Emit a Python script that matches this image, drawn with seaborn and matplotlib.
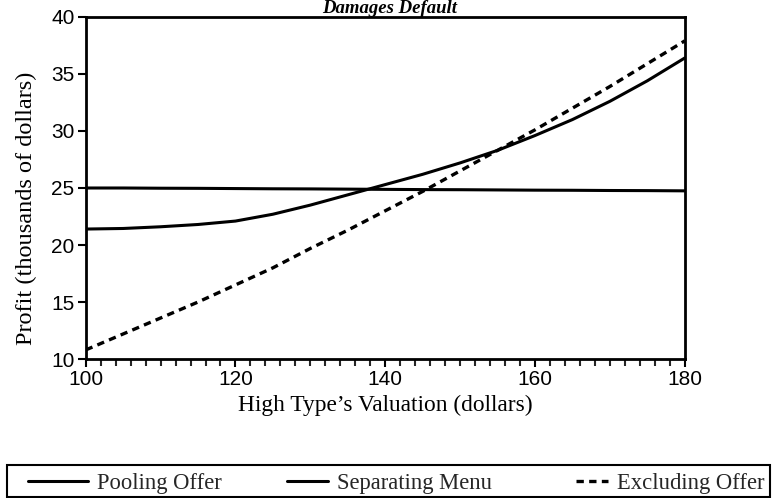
import numpy as np
import pandas as pd
import matplotlib
matplotlib.use("Agg")
import matplotlib.pyplot as plt
import seaborn as sns
from matplotlib.patches import Rectangle

valuation = [100, 105, 110, 115, 120, 125, 130, 135, 140, 145, 150, 155, 160, 165, 170, 175, 180]
pooling = [25.0, 25.0, 24.98, 24.97, 24.95, 24.93, 24.92, 24.9, 24.88, 24.86, 24.85, 24.83, 24.81, 24.8, 24.78, 24.77, 24.75]
separating = [21.4, 21.45, 21.6, 21.8, 22.1, 22.7, 23.5, 24.4, 25.3, 26.2, 27.2, 28.3, 29.6, 31.0, 32.6, 34.4, 36.4]
excluding = [10.8, 12.2, 13.6, 15.0, 16.5, 18.0, 19.7, 21.3, 23.0, 24.7, 26.5, 28.3, 30.1, 32.0, 33.9, 35.9, 37.9]

sns.set_theme(style="ticks")
plt.rcParams['font.family'] = ['Liberation Serif', 'DejaVu Serif']

df = pd.DataFrame({"valuation": valuation, "Pooling Offer": pooling,
                   "Separating Menu": separating, "Excluding Offer": excluding})

fig = plt.figure(figsize=(7.72, 4.98), dpi=100)
ax = fig.add_axes([0.111, 0.279, 0.776, 0.687])

sns.lineplot(data=df, x="valuation", y="Pooling Offer", ax=ax, color="black", lw=2.2,
             label="Pooling Offer")
sns.lineplot(data=df, x="valuation", y="Separating Menu", ax=ax, color="black", lw=2.2,
             label="Separating Menu")
sns.lineplot(data=df, x="valuation", y="Excluding Offer", ax=ax, color="black", lw=2.4,
             linestyle=(0, (2.2, 1.6)), label="Excluding Offer")

ax.set_xlim(100, 180)
ax.set_ylim(10, 40)
ax.set_xticks([100, 120, 140, 160, 180])
ax.set_xticks(np.arange(100, 181, 2), minor=True)
ax.set_yticks([10, 15, 20, 25, 30, 35, 40])
ax.tick_params(axis="both", which="major", direction="out", length=6, width=1.5,
               labelsize=15, colors="black", pad=2)
ax.tick_params(axis="x", which="minor", direction="out", length=5, width=1.5)
for lab in ax.get_xticklabels() + ax.get_yticklabels():
    lab.set_family("Liberation Sans")
for s in ax.spines.values():
    s.set_linewidth(2)
    s.set_color("black")

ax.set_xlabel("High Type\u2019s Valuation (dollars)", fontsize=16.8, color="black", labelpad=4)
ax.set_ylabel("Profit (thousands of dollars)", fontsize=17.5, color="black")
ax.yaxis.set_label_coords(-0.082, 0.44)

fig.text(0.505, 0.999, "Damages Default", ha="center", va="top", fontsize=13.5,
         style="italic", fontweight="bold", color="black")

# legend box along the bottom, entries placed like the original
handles, labels = ax.get_legend_handles_labels()
ax.get_legend().remove()
fig.patches.append(Rectangle((0.009, 0.002), 0.988, 0.064, transform=fig.transFigure,
                             fill=False, edgecolor="black", lw=1.5))
starts = [0.036, 0.372, 0.746]
hlens = [2.65, 1.8, 1.4]
for h, l, x0, hl in zip(handles, labels, starts, hlens):
    fig.legend([h], [l], loc="center left", bbox_to_anchor=(x0, 0.030), frameon=False,
               fontsize=16.3, handlelength=hl, handletextpad=0.4, borderpad=0,
               borderaxespad=0)

fig.savefig("out.png", dpi=100)
